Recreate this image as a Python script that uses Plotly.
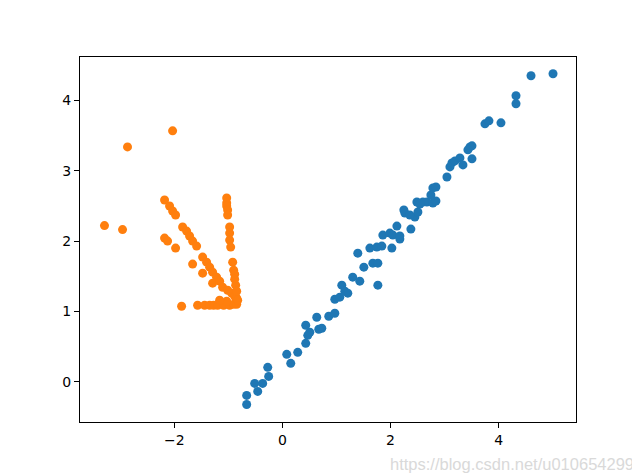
import plotly.graph_objects as go

# Blue series (original data)
blue_x = [-0.661, -0.661, -0.513, -0.457, -0.365, -0.254, -0.272, 0.080, 0.154, 0.283,
          0.431, 0.469, 0.506, 0.431, 0.635, 0.672, 0.728, 0.857, 0.969, 0.969,
          1.061, 1.098, 1.154, 1.209, 1.300, 1.431, 1.394, 1.506, 1.617, 1.672,
          1.765, 1.765, 1.746, 1.839, 1.857, 2.024, 1.987, 2.043, 2.117, 2.172,
          2.172, 2.265, 2.376, 2.450, 2.506, 2.487, 2.598, 2.672, 2.783, 2.839,
          2.783, 2.839, 3.043, 3.098, 3.135, 3.191, 3.283, 3.339, 3.469, 3.506,
          3.506, 3.431, 3.746, 3.820, 4.042, 4.320, 4.320, 4.598, 5.005, 2.246,
          2.357, 2.543, 2.746]
blue_y = [-0.321, -0.192, -0.021, -0.135, -0.021, 0.078, 0.207, 0.392, 0.264, 0.420,
          0.548, 0.662, 0.705, 0.805, 0.919, 0.748, 0.762, 0.933, 0.976, 1.175,
          1.204, 1.375, 1.289, 1.261, 1.489, 1.432, 1.830, 1.631, 1.902, 1.688,
          1.688, 1.375, 1.916, 1.930, 2.087, 1.902, 2.115, 2.087, 2.215, 2.030,
          2.073, 2.400, 2.172, 2.343, 2.415, 2.557, 2.557, 2.557, 2.543, 2.571,
          2.757, 2.771, 2.913, 3.056, 3.113, 3.141, 3.184, 3.084, 3.340, 3.355,
          3.170, 3.298, 3.668, 3.711, 3.682, 4.067, 3.953, 4.352, 4.380, 2.443,
          2.372, 2.528, 2.657]

# Orange series (transformed data)
orange_x = [-2.031, -2.865, -3.291, -2.957, -2.180, -2.087, -2.031, -1.976, -2.180, -2.124,
            -1.976, -1.846, -1.772, -1.717, -1.661, -1.587, -1.661, -1.476, -1.476, -1.402,
            -1.346, -1.291, -1.291, -1.217, -1.161, -1.106, -1.013, -0.939, -0.883, -0.846,
            -1.865, -1.569, -1.439, -1.346, -1.272, -1.198, -1.087, -0.976, -0.902, -0.846,
            -1.031, -1.031, -1.031, -1.013, -1.013, -0.976, -0.976, -0.976, -0.957, -0.920,
            -0.902, -0.883, -0.883, -0.865, -0.846, -0.828, -1.031, -1.161]
orange_y = [3.568, 3.340, 2.222, 2.165, 2.585, 2.500, 2.429, 2.372, 2.044, 2.001,
            1.902, 2.201, 2.144, 2.073, 2.001, 1.930, 1.674, 1.546, 1.774, 1.702,
            1.631, 1.560, 1.403, 1.489, 1.432, 1.346, 1.303, 1.261, 1.218, 1.190,
            1.075, 1.090, 1.090, 1.090, 1.090, 1.090, 1.090, 1.090, 1.104, 1.104,
            2.614, 2.543, 2.500, 2.443, 2.372, 2.201, 2.115, 2.016, 1.916, 1.702,
            1.588, 1.531, 1.460, 1.375, 1.289, 1.161, 1.147, 1.161]

x_ticks = [-2, 0, 2, 4]
y_ticks = [0, 1, 2, 3, 4]

fig = go.Figure()
fig.add_trace(go.Scatter(x=blue_x, y=blue_y, mode="markers",
                         marker=dict(color="#1f77b4", size=9, line=dict(width=0))))
fig.add_trace(go.Scatter(x=orange_x, y=orange_y, mode="markers",
                         marker=dict(color="#ff7f0e", size=9, line=dict(width=0))))

axis_common = dict(showgrid=False, zeroline=False, showline=True, mirror=True,
                   linecolor="black", linewidth=1, ticks="outside", ticklen=5,
                   tickwidth=1, tickcolor="black",
                   tickfont=dict(family="DejaVu Sans", size=14, color="black"))

# The page body has an 8px default margin; size the figure to compensate.
fig.update_layout(
    width=632, height=465,
    margin=dict(l=72, r=64, t=49, b=51),
    paper_bgcolor="white", plot_bgcolor="white",
    showlegend=False,
    xaxis=dict(range=[-3.744, 5.43], tickvals=x_ticks, **axis_common),
    yaxis=dict(range=[-0.57, 4.618], tickvals=y_ticks, **axis_common),
    annotations=[dict(text="https://blog.csdn.net/u010654299", xref="paper", yref="paper",
                      x=1.12, y=-0.115, xanchor="right", yanchor="middle", showarrow=False,
                      font=dict(family="Liberation Sans", size=16.5, color="#d9d9d9"))],
)

fig.write_html("out.html")
